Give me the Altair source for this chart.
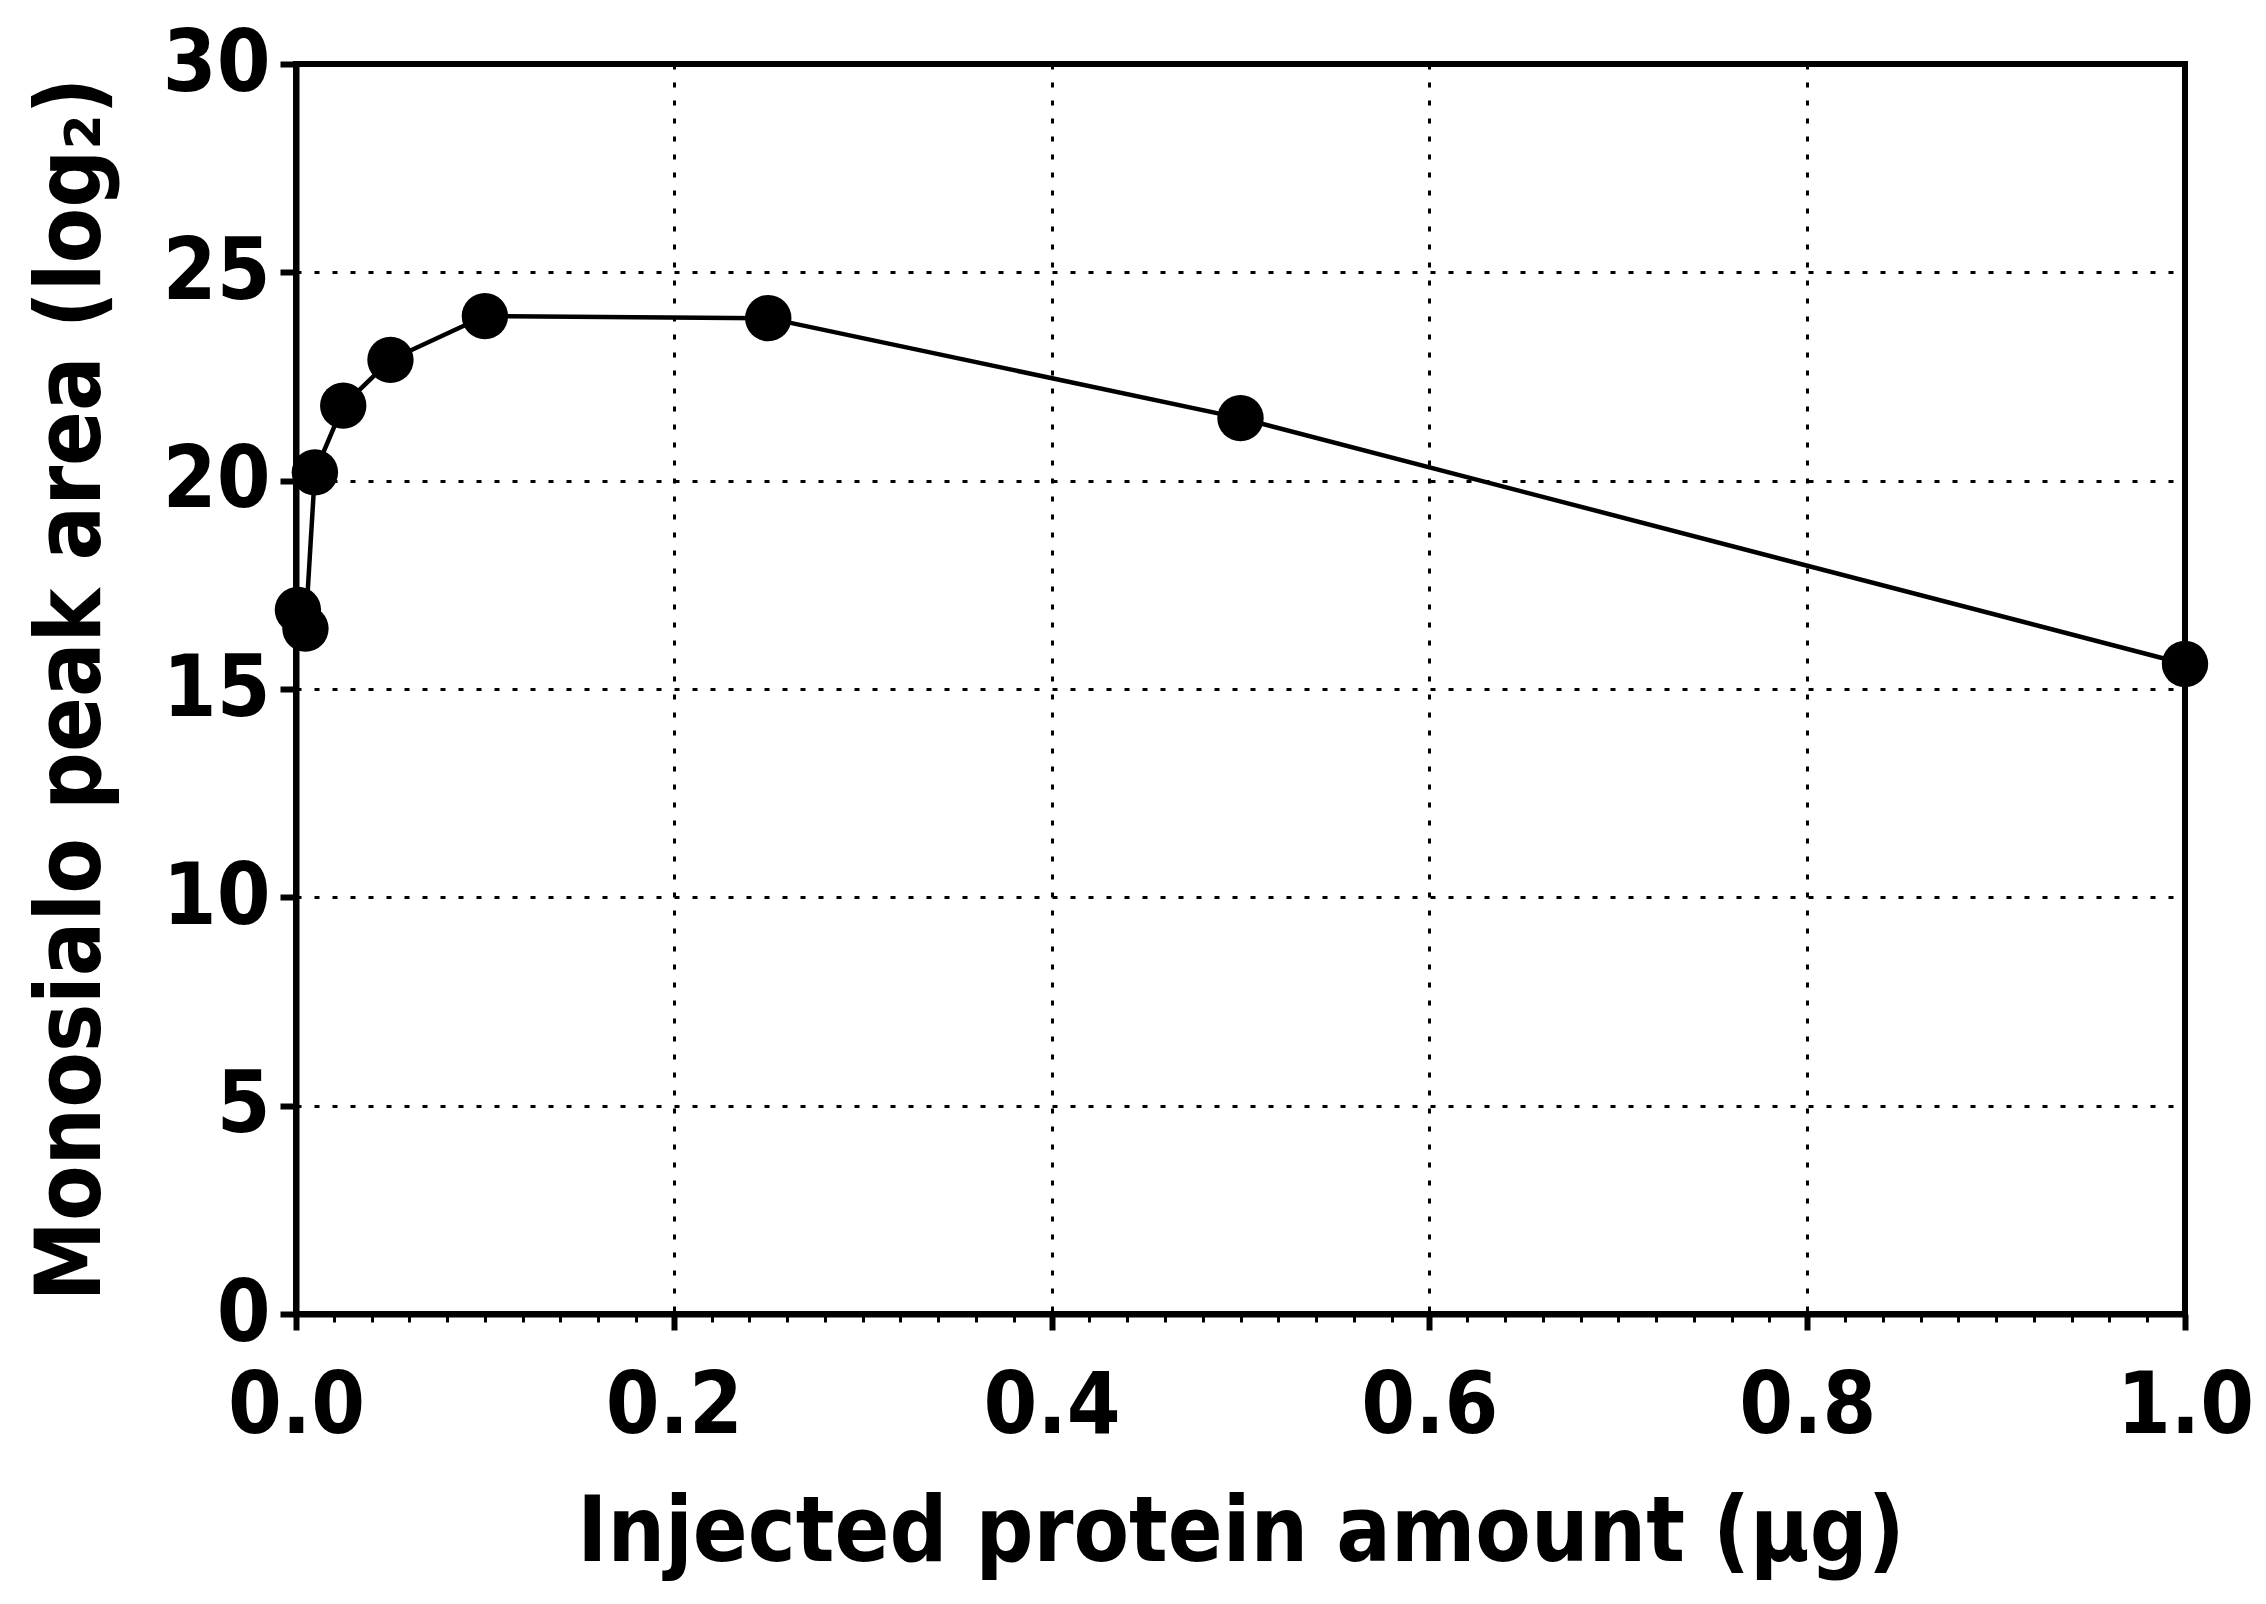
import altair as alt
import pandas as pd

# injected amount (ug) vs monosialo peak area (log2)
amount = [0.001, 0.005, 0.01, 0.025, 0.05, 0.1, 0.25, 0.5, 1.0]
peak_area = [16.9, 16.45, 20.2, 21.8, 22.9, 23.95, 23.9, 21.5, 15.6]

x_ticks = [round(i * 0.02, 2) for i in range(51)]
y_ticks = [0, 5, 10, 15, 20, 25, 30]

df = pd.DataFrame({"amount": amount, "area": peak_area})

FONT = "Liberation Sans Narrow, DejaVu Sans Condensed, Liberation Sans, sans-serif"
major = "abs(datum.value * 5 - round(datum.value * 5)) < 0.001"

x_enc = alt.X(
    "amount:Q",
    title="Injected protein amount (μg)",
    scale=alt.Scale(domain=[0, 1], nice=False, zero=False),
    axis=alt.Axis(
        values=x_ticks,
        format=".1f",
        labelFlush=False,
        labelExpr=f"{major} ? datum.label : ''",
        tickSize={"condition": {"test": major, "value": 16}, "value": 8},
        tickWidth={"condition": {"test": major, "value": 6}, "value": 3},
        gridOpacity={"condition": {"test": major, "value": 1}, "value": 0},
        labelPadding=34,
        titlePadding=40,
    ),
)
y_enc = alt.Y(
    "area:Q",
    title="Monosialo peak area (log₂)",
    scale=alt.Scale(domain=[0, 30], nice=False),
    axis=alt.Axis(values=y_ticks, tickSize=16, tickWidth=6, labelPadding=10,
                  labelFlush=False, titlePadding=44),
)

line = alt.Chart(df).mark_line(color="black", strokeWidth=4.5).encode(x=x_enc, y=y_enc)
dots = alt.Chart(df).mark_circle(color="black", opacity=1, size=2150).encode(x=x_enc, y=y_enc)

chart = alt.layer(line, dots).properties(
    width=1889, height=1250,
    autosize=alt.AutoSizeParams(type="none"),
    padding={"left": 288, "top": 56, "right": 72, "bottom": 274},
).configure_view(
    stroke="black", strokeWidth=6
).configure_axis(
    domainColor="black", domainWidth=6, tickColor="black",
    grid=True, gridColor="black", gridWidth=3, gridDash=[5, 13],
    labelFont=FONT, labelFontSize=86, labelFontWeight="bold", labelColor="black",
    titleFont=FONT, titleFontSize=90, titleFontWeight="bold", titleColor="black",
)

chart.save("out.html", embed_options={"renderer": "svg", "actions": False})
